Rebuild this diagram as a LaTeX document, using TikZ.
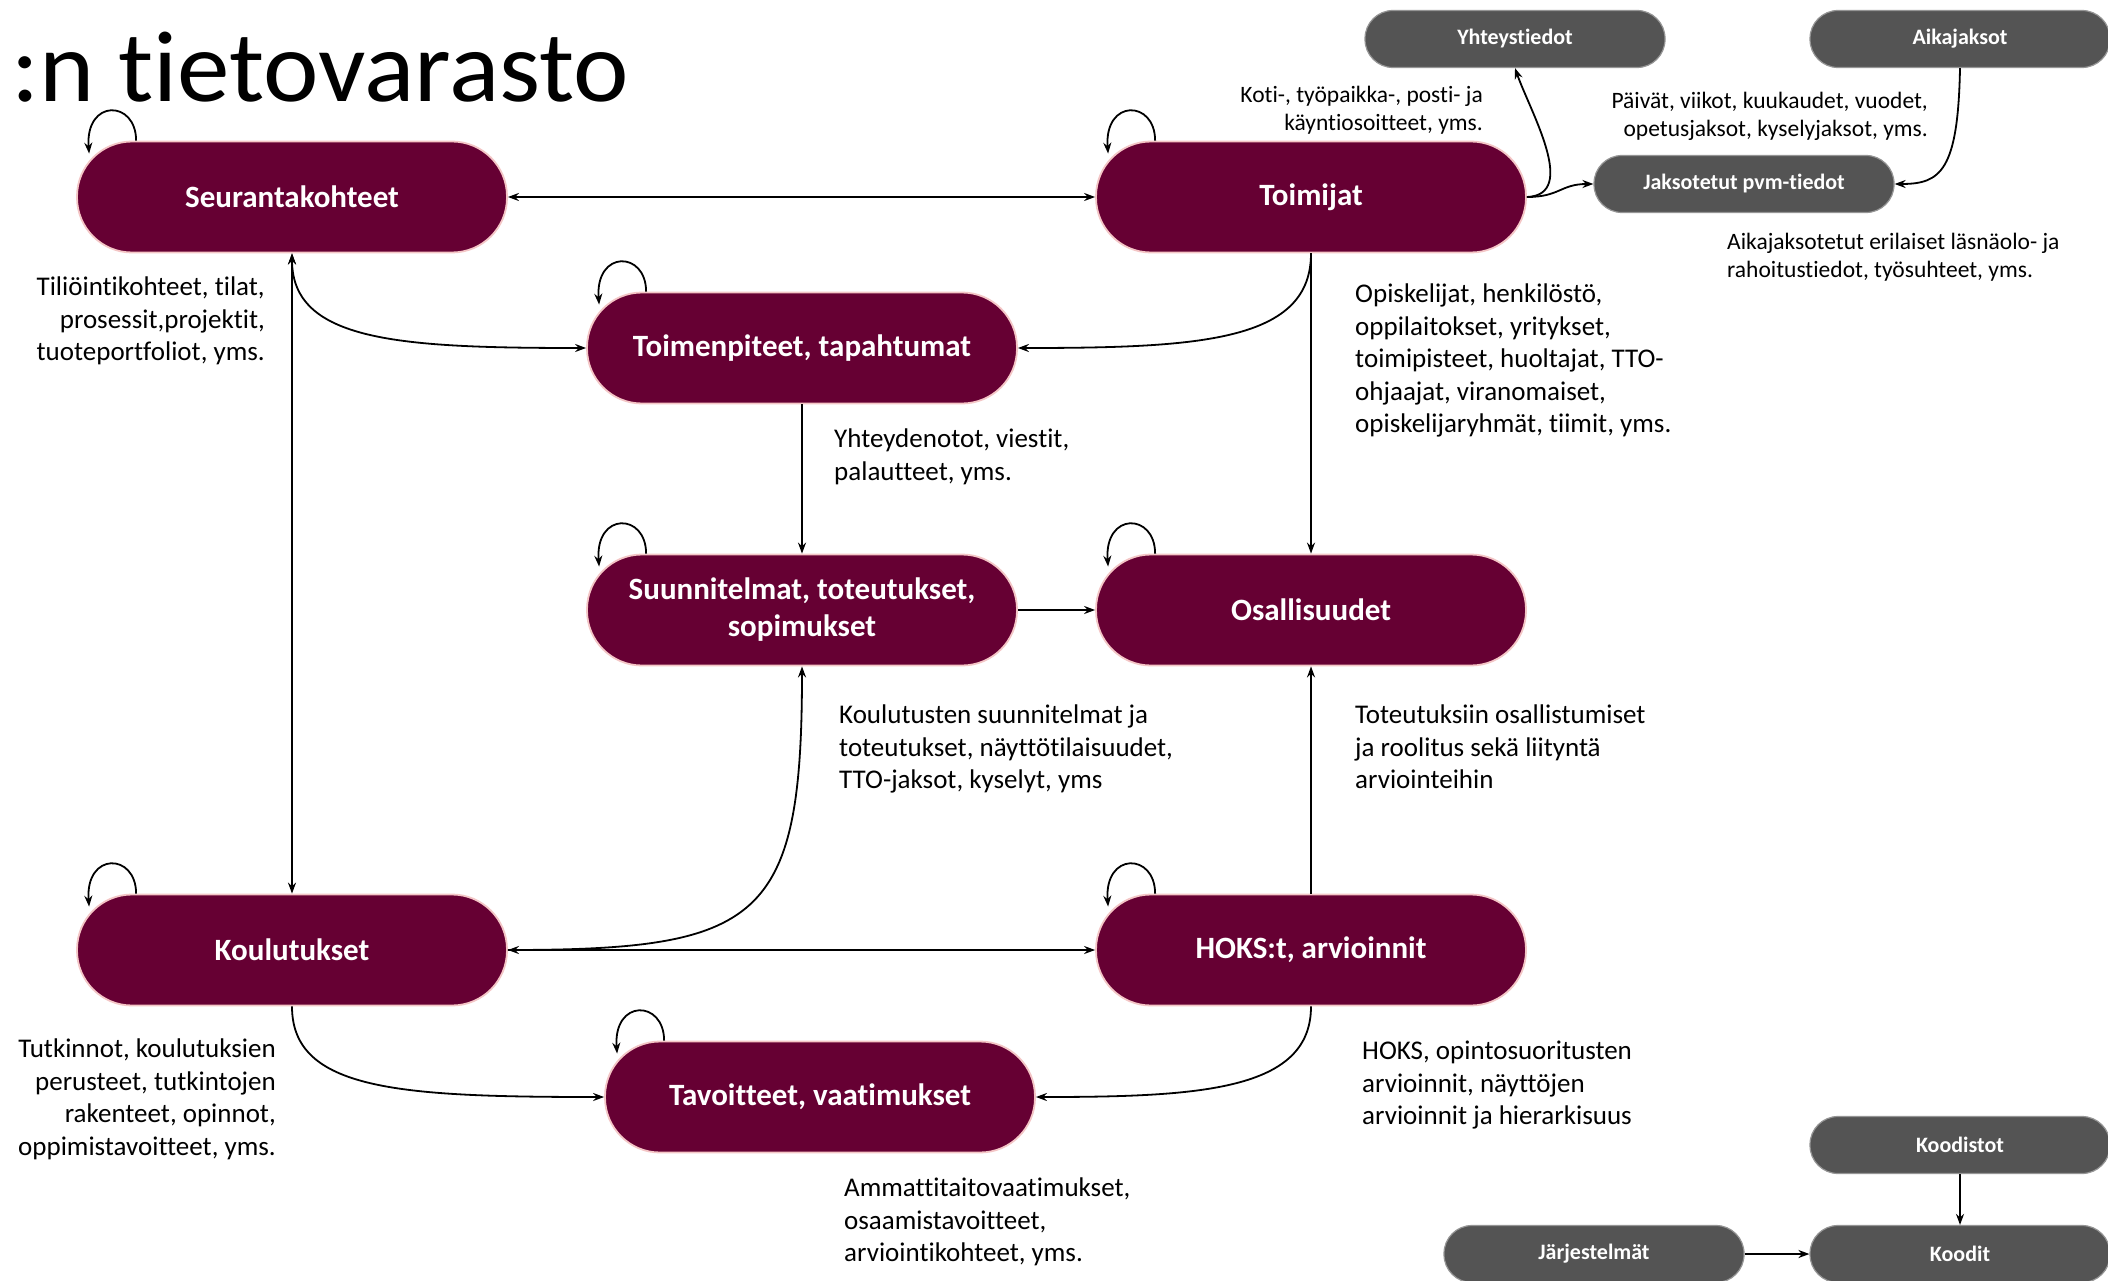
\documentclass[tikz,border=0pt]{standalone}
\usepackage{fontspec}
\setmainfont{Carlito}[Ligatures=NoCommon]
\newfontfamily\titlefont{Carlito}[Ligatures=NoCommon,FakeStretch=1.04]
\usetikzlibrary{arrows.meta}
\definecolor{wine}{HTML}{660033}
\definecolor{winebd}{HTML}{F4C6C6}
\definecolor{darkgr}{HTML}{545454}
\definecolor{grbd}{HTML}{959595}
\begin{document}
\begin{tikzpicture}[x=1pt,y=-1pt,
 mainbox/.style={draw=winebd, line width=1.8pt, fill=wine, rounded corners=55pt, minimum width=430pt, minimum height=111pt, text=white, font=\fontsize{31}{37}\selectfont\bfseries, align=center, inner sep=0pt},
 graybox/.style={draw=grbd, line width=1.2pt, fill=darkgr, rounded corners=28pt, minimum width=300pt, minimum height=57pt, text=white, font=\fontsize{22}{26}\selectfont\bfseries, inner sep=0pt},
 lbl/.style={font=\fontsize{27}{32.5}\selectfont, inner sep=0pt},
 slbl/.style={font=\fontsize{23.5}{28}\selectfont, inner sep=0pt},
 conn/.style={line width=1.8pt, -{Stealth[length=11pt,width=8pt]}},
 bconn/.style={line width=1.8pt, {Stealth[length=11pt,width=8pt]}-{Stealth[length=11pt,width=8pt]}},
 selfloop/.style={line width=1.8pt, -{Stealth[length=11pt,width=8pt]}}
]
\useasboundingbox[fill=white] (0,0) rectangle (2108,1281);

\node[anchor=base west, font=\titlefont\fontsize{101}{104}\selectfont, inner sep=0pt] (title) at (11,102) {:n tietovarasto};

% main nodes
\node[mainbox] (s)  at (292,197)   {Seurantakohteet};
\node[mainbox] (t)  at (1311,197)  {Toimijat};
\node[mainbox] (tp) at (802,348)   {Toimenpiteet, tapahtumat};
\node[mainbox] (su) at (802,610)   {Suunnitelmat, toteutukset,\\sopimukset};
\node[mainbox] (o)  at (1311,610)  {Osallisuudet};
\node[mainbox] (k)  at (292,950)   {Koulutukset};
\node[mainbox] (h)  at (1311,950)  {HOKS:t, arvioinnit};
\node[mainbox] (tv) at (820,1097)  {Tavoitteet, vaatimukset};

% gray nodes
\node[graybox] (y)  at (1515,39)   {Yhteystiedot};
\node[graybox] (a)  at (1960,39)   {Aikajaksot};
\node[graybox] (j)  at (1744,184)  {Jaksotetut pvm-tiedot};
\node[graybox] (kd) at (1960,1145) {Koodistot};
\node[graybox] (ko) at (1960,1254) {Koodit};
\node[graybox] (je) at (1594,1254) {Järjestelmät};

% self loops
\foreach \n in {s,t,tp,su,o,k,h,tv}
  \draw[selfloop] ([xshift=60pt]\n.north west) .. controls +(0,-41) and +(-4,-55) .. ([xshift=13pt,yshift=-13pt]\n.north west);

% connectors
\draw[bconn] (s.east) -- (t.west);
\draw[bconn] (s.south) -- (k.north);
\draw[bconn] (s.south) .. controls +(0,88) and +(-187,0) .. (tp.west);
\draw[conn] (t.south) .. controls +(0,88) and +(183,0) .. (tp.east);
\draw[conn] (t.south) -- (o.north);
\draw[conn] (tp.south) -- (su.north);
\draw[conn] (su.east) -- (o.west);
\draw[bconn] (k.east) -- (h.west);
\draw[conn] (k.east) .. controls +(253,0) and +(0,255) .. (su.south);
\draw[conn] (h.north) -- (o.south);
\draw[conn] (k.south) .. controls +(0,84) and +(-205,0) .. (tv.west);
\draw[conn] (h.south) .. controls +(0,84) and +(165,0) .. (tv.east);
\draw[conn] (t.east) .. controls +(52,-2) and +(15,43) .. (y.south);
\draw[conn] (t.east) .. controls +(33,0) and +(-33,0) .. (j.west);
\draw[conn] (a.south) .. controls +(-2,103) and +(46,0) .. (j.east);
\draw[conn] (kd.south) -- (ko.north);
\draw[conn] (je.east) -- (ko.west);

% labels
\node[lbl, align=right, anchor=north east] (la) at (265,277) {Tiliöintikohteet, tilat,\\prosessit,projektit,\\tuoteportfoliot, yms.};
\node[lbl, align=left, anchor=north west] (lb) at (834,429) {Yhteydenotot, viestit,\\palautteet, yms.};
\node[slbl, align=right, anchor=north east] (lc) at (1483,86) {Koti-, työpaikka-, posti- ja\\käyntiosoitteet, yms.};
\node[slbl, align=right, anchor=north east] (ld) at (1928,92) {Päivät, viikot, kuukaudet, vuodet,\\opetusjaksot, kyselyjaksot, yms.};
\node[slbl, align=left, anchor=north west] (le) at (1727,233) {Aikajaksotetut erilaiset läsnäolo- ja\\rahoitustiedot, työsuhteet, yms.};
\node[lbl, align=left, anchor=north west] (lf) at (1355,284) {Opiskelijat, henkilöstö,\\oppilaitokset, yritykset,\\toimipisteet, huoltajat, TTO-\\ohjaajat, viranomaiset,\\opiskelijaryhmät, tiimit, yms.};
\node[lbl, align=left, anchor=north west] (lg) at (839,705) {Koulutusten suunnitelmat ja\\toteutukset, näyttötilaisuudet,\\TTO-jaksot, kyselyt, yms};
\node[lbl, align=left, anchor=north west] (lh) at (1355,705) {Toteutuksiin osallistumiset\\ja roolitus sekä liityntä\\arviointeihin};
\node[lbl, align=right, anchor=north east] (li) at (276,1039) {Tutkinnot, koulutuksien\\perusteet, tutkintojen\\rakenteet, opinnot,\\oppimistavoitteet, yms.};
\node[lbl, align=left, anchor=north west] (lj) at (1362,1041) {HOKS, opintosuoritusten\\arvioinnit, näyttöjen\\arvioinnit ja hierarkisuus};
\node[lbl, align=left, anchor=north west] (lk) at (844,1178) {Ammattitaitovaatimukset,\\osaamistavoitteet,\\arviointikohteet, yms.};
\end{tikzpicture}
\end{document}
